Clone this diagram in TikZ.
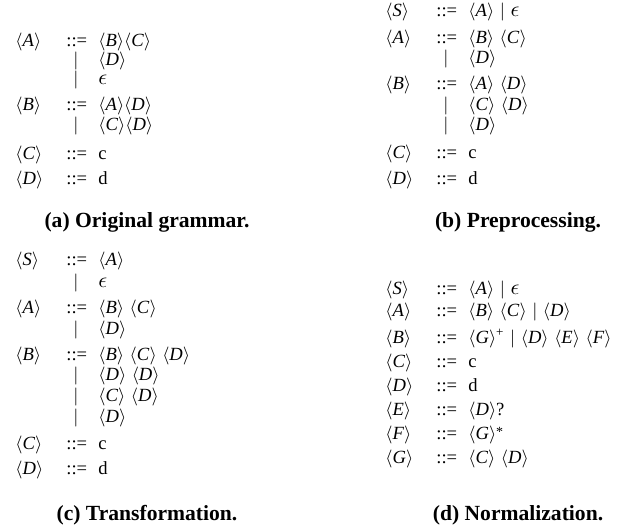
\documentclass[tikz,border=0pt]{standalone}
\usepackage{fontspec}
\setmainfont{Liberation Serif}
\newcommand\nt[1]{$\langle$\textit{#1}$\rangle$}
\newcommand\eps{{\fontsize{11}{11}\selectfont$\epsilon$}}
\newcommand\gfont{\fontsize{9.3}{11}\selectfont\setlength{\spaceskip}{0.3em plus 0.1em}}
\newcommand\prodrow[5]{%
  \node[gcell] (#1-l) at (#2,#3+4) {#4};
  \node[gcell] (#1-s) at (#2+51,#3+4) {::=};
  \node[gcell] (#1-r) at (#2+83,#3+4) {#5};}
\newcommand\altrow[4]{%
  \node[gbar] (#1-b) at (#2+61,#3+4) {$|$};
  \node[gcell] (#1-r) at (#2+83,#3+4) {#4};}
\tikzset{
  gcell/.style={anchor=base west,inner sep=0pt,font=\gfont},
  gbar/.style={anchor=base,inner sep=0pt,font=\gfont},
  capt/.style={anchor=base,inner sep=0pt,font=\fontsize{10.8}{13}\selectfont\bfseries}
}
\begin{document}
\begin{tikzpicture}[x=0.5pt,y=-0.5pt]
\useasboundingbox (0,0) rectangle (639,529);
% (a)
\prodrow{a1}{15}{43}{\nt{A}}{\nt{B}\nt{C}}
\altrow{a2}{15}{62}{\nt{D}}
\altrow{a3}{15}{81}{\eps}
\prodrow{a4}{15}{107}{\nt{B}}{\nt{A}\nt{D}}
\altrow{a5}{15}{127}{\nt{C}\nt{D}}
\prodrow{a6}{15}{156}{\nt{C}}{c}
\prodrow{a7}{15}{181}{\nt{D}}{d}
\node[capt] (capa) at (147,228) {(a) Original grammar.};
% (b)
\prodrow{b1}{385}{13}{\nt{S}}{\nt{A} $|$ \eps}
\prodrow{b2}{385}{40}{\nt{A}}{\nt{B} \nt{C}}
\altrow{b3}{385}{60}{\nt{D}}
\prodrow{b4}{385}{86}{\nt{B}}{\nt{A} \nt{D}}
\altrow{b5}{385}{107}{\nt{C} \nt{D}}
\altrow{b6}{385}{127}{\nt{D}}
\prodrow{b7}{385}{155}{\nt{C}}{c}
\prodrow{b8}{385}{181}{\nt{D}}{d}
\node[capt] (capb) at (518,228) {(b) Preprocessing.};
% (c)
\prodrow{c1}{15}{262}{\nt{S}}{\nt{A}}
\altrow{c2}{15}{284}{\eps}
\prodrow{c3}{15}{310}{\nt{A}}{\nt{B} \nt{C}}
\altrow{c4}{15}{331}{\nt{D}}
\prodrow{c5}{15}{357}{\nt{B}}{\nt{B} \nt{C} \nt{D}}
\altrow{c6}{15}{377}{\nt{D} \nt{D}}
\altrow{c7}{15}{398}{\nt{C} \nt{D}}
\altrow{c8}{15}{419}{\nt{D}}
\prodrow{c9}{15}{446}{\nt{C}}{c}
\prodrow{c10}{15}{471}{\nt{D}}{d}
\node[capt] (capc) at (147,521) {(c) Transformation.};
% (d)
\prodrow{d1}{385}{291}{\nt{S}}{\nt{A} $|$ \eps}
\prodrow{d2}{385}{313}{\nt{A}}{\nt{B} \nt{C} $|$ \nt{D}}
\prodrow{d3}{385}{340}{\nt{B}}{\nt{G}\textsuperscript{+} $|$ \nt{D} \nt{E} \nt{F}}
\prodrow{d4}{385}{364}{\nt{C}}{c}
\prodrow{d5}{385}{388}{\nt{D}}{d}
\prodrow{d6}{385}{412}{\nt{E}}{\nt{D}?}
\prodrow{d7}{385}{436}{\nt{F}}{\nt{G}\raisebox{0.4ex}{\fontsize{7}{7}\selectfont*}}
\prodrow{d8}{385}{460}{\nt{G}}{\nt{C} \nt{D}}
\node[capt] (capd) at (518,521) {(d) Normalization.};
\end{tikzpicture}
\end{document}
